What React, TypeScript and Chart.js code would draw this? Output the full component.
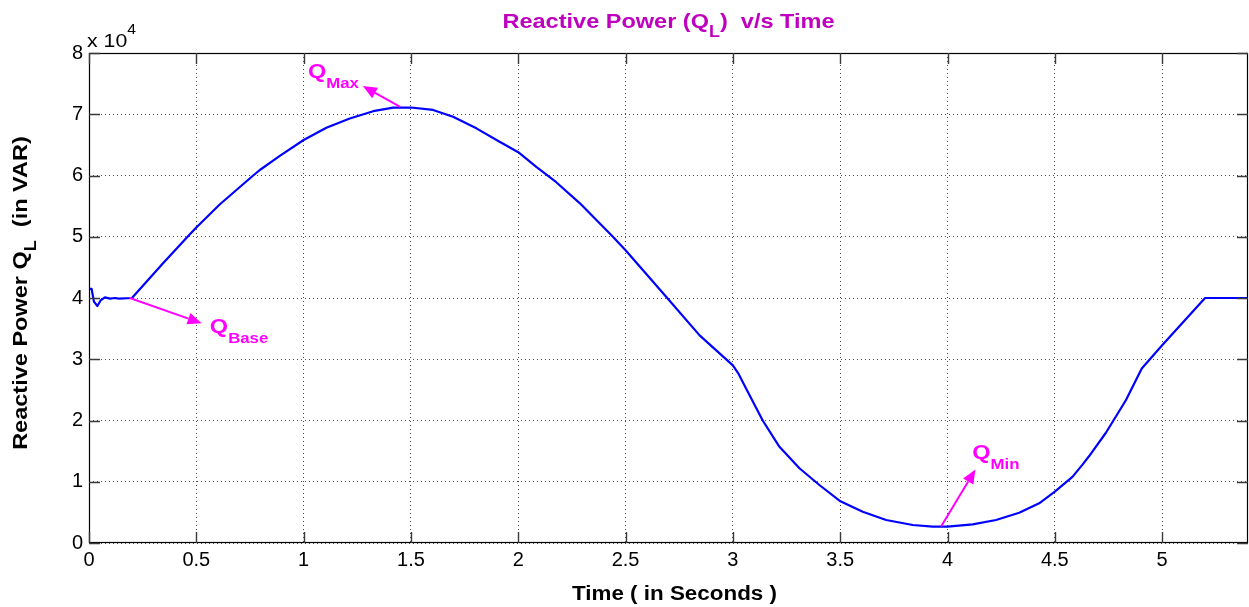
import React, { useEffect, useRef } from "react";
import { Chart, registerables } from "chart.js";

Chart.register(...registerables);

// ---- data (time in seconds, reactive power in VAR) ----
const TIME_S = [
  0.0, 0.012, 0.023, 0.039, 0.054, 0.074, 0.098, 0.121, 0.14, 0.2,
  0.346, 0.47, 0.5, 0.61, 0.765, 0.796, 0.889, 1.0, 1.106, 1.215,
  1.324, 1.417, 1.5, 1.603, 1.696, 1.805, 1.913, 2.0, 2.084, 2.177,
  2.286, 2.441, 2.5, 2.689, 2.845, 3.0, 3.025, 3.062, 3.139, 3.217,
  3.31, 3.403, 3.501, 3.605, 3.714, 3.838, 3.931, 4.0, 4.117, 4.226,
  4.334, 4.427, 4.5, 4.582, 4.629, 4.66, 4.738, 4.831, 4.905, 5.0,
  5.2, 5.4,
];
const Q_VAR = [
  41500, 41500, 39400, 38700, 39600, 40100, 39900, 40000, 39900, 40000,
  45700, 50400, 51500, 55300, 60000, 60900, 63200, 65800, 67800, 69300,
  70500, 71070, 71100, 70700, 69600, 67700, 65500, 63800, 61400, 58900,
  55500, 50000, 47800, 40200, 33900, 29000, 27700, 25200, 20000, 15700,
  12200, 9470, 6800, 5100, 3750, 2940, 2660, 2660, 3050, 3750,
  4950, 6480, 8400, 10800, 12800, 14200, 18000, 23300, 28500, 32300,
  40000, 40000,
];

const X_TICKS = [0, 0.5, 1, 1.5, 2, 2.5, 3, 3.5, 4, 4.5, 5];
const Y_TICKS = [0, 10000, 20000, 30000, 40000, 50000, 60000, 70000, 80000];
const X_MIN = 0;
const X_MAX = 5.4;
const Y_MIN = 0;
const Y_MAX = 80000;
const Y_EXPONENT = "4";

// ---- annotations (data coordinates) ----
const ANN_LABEL = ["Q", "Q", "Q"];
const ANN_SUB = ["Max", "Base", "Min"];
const ANN_FROM_T = [1.45, 0.19, 3.97];
const ANN_FROM_Q = [71200, 40000, 2700];
const ANN_TO_T = [1.276, 0.525, 4.13];
const ANN_TO_Q = [74600, 35870, 12000];
const ANN_TEXT_T = [1.02, 0.563, 4.115];
const ANN_TEXT_Q = [75900, 34300, 13700];

const TITLE_PARTS = ["Reactive Power (Q", "L", ")  v/s Time"];
const YTITLE_PARTS = ["Reactive Power Q", "L", "  (in VAR)"];
const XTITLE = "Time ( in Seconds )";

const FONT = '"Liberation Sans", Arial, Helvetica, sans-serif';
const STRETCH = 1.12;

type Part = { text: string; font: string; dy: number };

function richWidth(ctx: CanvasRenderingContext2D, parts: Part[]) {
  let w = 0;
  for (const p of parts) {
    ctx.font = p.font;
    w += ctx.measureText(p.text).width * STRETCH;
  }
  return w;
}

function drawRich(
  ctx: CanvasRenderingContext2D,
  parts: Part[],
  x: number,
  y: number,
  align: "left" | "center",
  color: string
) {
  const w = richWidth(ctx, parts);
  let cx = align === "center" ? x - w / 2 : x;
  ctx.fillStyle = color;
  ctx.textAlign = "left";
  ctx.textBaseline = "alphabetic";
  for (const p of parts) {
    ctx.font = p.font;
    const pw = ctx.measureText(p.text).width * STRETCH;
    ctx.save();
    ctx.translate(cx, y + p.dy);
    ctx.scale(STRETCH, 1);
    ctx.fillText(p.text, 0, 0);
    ctx.restore();
    cx += pw;
  }
}

function drawArrow(
  ctx: CanvasRenderingContext2D,
  x1: number,
  y1: number,
  x2: number,
  y2: number,
  color: string
) {
  const ang = Math.atan2(y2 - y1, x2 - x1);
  const hl = 14;
  const hw = 6;
  const bx = x2 - hl * Math.cos(ang);
  const by = y2 - hl * Math.sin(ang);
  ctx.strokeStyle = color;
  ctx.fillStyle = color;
  ctx.lineWidth = 2;
  ctx.beginPath();
  ctx.moveTo(x1, y1);
  ctx.lineTo(bx, by);
  ctx.stroke();
  ctx.beginPath();
  ctx.moveTo(x2, y2);
  ctx.lineTo(bx + hw * Math.sin(ang), by - hw * Math.cos(ang));
  ctx.lineTo(bx - hw * Math.sin(ang), by + hw * Math.cos(ang));
  ctx.closePath();
  ctx.fill();
}

const decorPlugin = {
  id: "matlabDecor",
  afterDraw(chart: any) {
    const ctx: CanvasRenderingContext2D = chart.ctx;
    const { left, right, top, bottom } = chart.chartArea;
    const xs = chart.scales.x;
    const ys = chart.scales.y;
    ctx.save();

    // axes box
    ctx.strokeStyle = "#000";
    ctx.lineWidth = 1.2;
    ctx.setLineDash([]);
    ctx.strokeRect(left + 0.5, top + 0.5, right - left - 1, bottom - top - 1);

    // inward ticks
    ctx.strokeStyle = "#3a3a3a";
    ctx.lineWidth = 1.4;
    const tl = 11;
    ctx.beginPath();
    for (const v of X_TICKS) {
      const px = Math.round(xs.getPixelForValue(v)) + 0.5;
      ctx.moveTo(px, bottom);
      ctx.lineTo(px, bottom - tl);
      ctx.moveTo(px, top);
      ctx.lineTo(px, top + tl);
    }
    for (const v of Y_TICKS) {
      const py = Math.round(ys.getPixelForValue(v)) + 0.5;
      ctx.moveTo(left, py);
      ctx.lineTo(left + tl, py);
      ctx.moveTo(right, py);
      ctx.lineTo(right - tl, py);
    }
    ctx.stroke();

    // exponent label
    drawRich(
      ctx,
      [
        { text: "x 10", font: `19px ${FONT}`, dy: 0 },
        { text: Y_EXPONENT, font: `14px ${FONT}`, dy: -13 },
      ],
      left - 2,
      top - 6,
      "left",
      "#000"
    );

    // title
    drawRich(
      ctx,
      [
        { text: TITLE_PARTS[0], font: `bold 21px ${FONT}`, dy: 0 },
        { text: TITLE_PARTS[1], font: `bold 16px ${FONT}`, dy: 9 },
        { text: TITLE_PARTS[2], font: `bold 21px ${FONT}`, dy: 0 },
      ],
      (left + right) / 2,
      28,
      "center",
      "#bf00bf"
    );

    // x title
    drawRich(
      ctx,
      [{ text: XTITLE, font: `bold 20px ${FONT}`, dy: 0 }],
      (left + right) / 2 + 6,
      600,
      "center",
      "#000"
    );

    // y title (rotated)
    ctx.save();
    ctx.translate(27, (top + bottom) / 2 - 5);
    ctx.rotate(-Math.PI / 2);
    drawRich(
      ctx,
      [
        { text: YTITLE_PARTS[0], font: `bold 21px ${FONT}`, dy: 0 },
        { text: YTITLE_PARTS[1], font: `bold 16px ${FONT}`, dy: 9 },
        { text: YTITLE_PARTS[2], font: `bold 21px ${FONT}`, dy: 0 },
      ],
      0,
      0,
      "center",
      "#000"
    );
    ctx.restore();

    // annotations
    const mag = "#ff00ff";
    for (let i = 0; i < ANN_LABEL.length; i++) {
      drawArrow(
        ctx,
        xs.getPixelForValue(ANN_FROM_T[i]),
        ys.getPixelForValue(ANN_FROM_Q[i]),
        xs.getPixelForValue(ANN_TO_T[i]),
        ys.getPixelForValue(ANN_TO_Q[i]),
        mag
      );
      drawRich(
        ctx,
        [
          { text: ANN_LABEL[i], font: `bold 21px ${FONT}`, dy: 0 },
          { text: ANN_SUB[i], font: `bold 15px ${FONT}`, dy: 10 },
        ],
        xs.getPixelForValue(ANN_TEXT_T[i]),
        ys.getPixelForValue(ANN_TEXT_Q[i]),
        "left",
        mag
      );
    }

    ctx.restore();
  },
};

export default function App() {
  const canvasRef = useRef<HTMLCanvasElement | null>(null);

  useEffect(() => {
    document.body.style.margin = "0";
    const canvas = canvasRef.current;
    if (!canvas) return;
    const tickFont = { family: FONT, size: 20 };
    const chart = new Chart(canvas, {
      type: "line",
      data: {
        datasets: [
          {
            data: TIME_S.map((t, i) => ({ x: t, y: Q_VAR[i] })),
            borderColor: "#0000ff",
            borderWidth: 2.2,
            pointRadius: 0,
            tension: 0,
            borderJoinStyle: "round",
            fill: false,
          },
        ],
      },
      options: {
        animation: false,
        responsive: false,
        events: [],
        layout: { padding: { top: 53, right: 1, left: 0, bottom: 0 } },
        plugins: {
          legend: { display: false },
          title: { display: false },
          tooltip: { enabled: false },
        },
        scales: {
          x: {
            type: "linear",
            min: X_MIN,
            max: X_MAX,
            afterFit: (s: any) => {
              s.height = 64;
            },
            afterBuildTicks: (s: any) => {
              s.ticks = X_TICKS.map((v) => ({ value: v }));
            },
            ticks: {
              font: tickFont,
              color: "#000",
              padding: 5,
              maxRotation: 0,
              autoSkip: false,
              callback: (v: any) => String(v),
            },
            grid: {
              color: "rgba(0,0,0,0.7)",
              lineWidth: 1,
              drawTicks: false,
              tickLength: 0,
            },
            border: { display: false, dash: [1, 3] },
          },
          y: {
            type: "linear",
            min: Y_MIN,
            max: Y_MAX,
            afterFit: (s: any) => {
              s.width = 89;
            },
            afterBuildTicks: (s: any) => {
              s.ticks = Y_TICKS.map((v) => ({ value: v }));
            },
            ticks: {
              font: tickFont,
              color: "#000",
              padding: 6,
              autoSkip: false,
              callback: (v: any) => String(Number(v) / 10000),
            },
            grid: {
              color: "rgba(0,0,0,0.7)",
              lineWidth: 1,
              drawTicks: false,
              tickLength: 0,
            },
            border: { display: false, dash: [1, 3] },
          },
        },
      },
      plugins: [decorPlugin],
    } as any);
    return () => chart.destroy();
  }, []);

  return (
    <div style={{ width: 1249, height: 607, background: "#fff" }}>
      <canvas ref={canvasRef} width={1249} height={607} style={{ display: "block" }} />
    </div>
  );
}
